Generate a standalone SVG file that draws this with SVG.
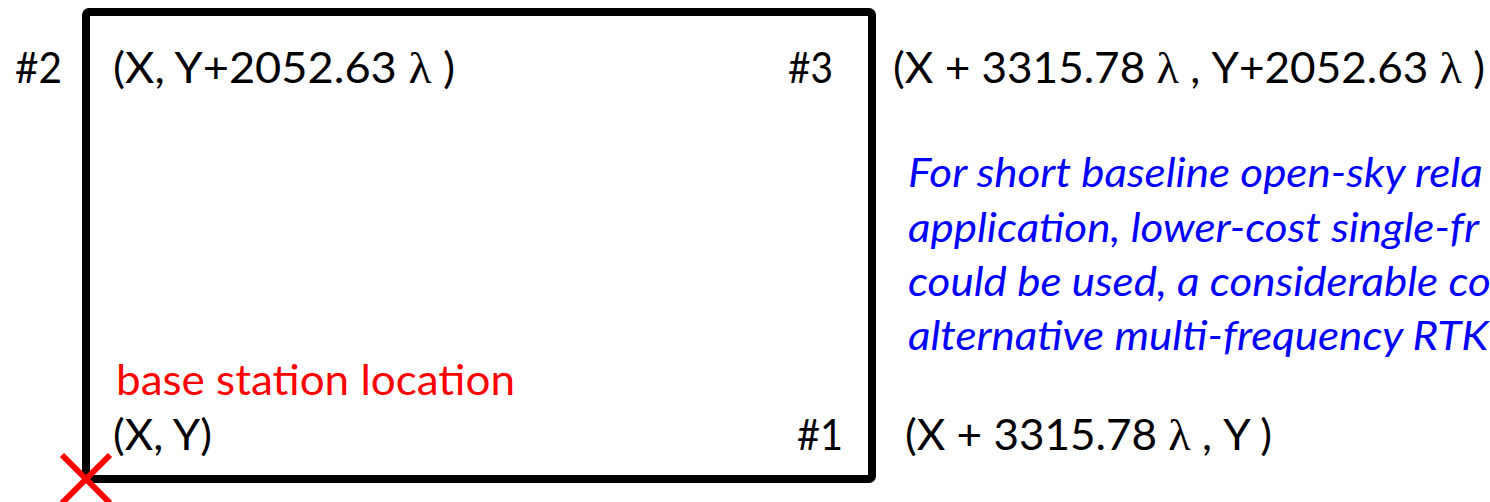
<svg xmlns="http://www.w3.org/2000/svg" width="1490" height="502" viewBox="0 0 1490 502">
<style>
.t{font-family:Lato,"Liberation Sans",sans-serif;font-size:42px;fill:#000}
.l{font-family:"Liberation Serif","DejaVu Serif",serif;font-size:44px}
.red{fill:#ff0000}
.blue{font-family:Lato,"Liberation Sans",sans-serif;font-size:40px;font-style:italic;fill:#0000ff}
</style>
<rect width="1490" height="502" fill="#fff"/>
<g id="area">
<rect x="86" y="12" width="786" height="467" rx="3" fill="none" stroke="#000" stroke-width="8"/>
</g>
<g id="corner2">
<text class="t" x="15" y="83" textLength="47" lengthAdjust="spacingAndGlyphs">#2</text>
<text class="t" x="113" y="83" textLength="342" lengthAdjust="spacingAndGlyphs">(X, Y+2052.63 <tspan class="l">λ</tspan>  )</text>
</g>
<g id="corner3">
<text class="t" x="788" y="83" textLength="45" lengthAdjust="spacingAndGlyphs">#3</text>
<text class="t" x="893" y="83" textLength="592" lengthAdjust="spacingAndGlyphs">(X + 3315.78 <tspan class="l">λ</tspan> , Y+2052.63 <tspan class="l">λ</tspan>  )</text>
</g>
<g id="note" transform="matrix(1.1 0 0 1 -90.8 0)">
<text class="blue" x="908" y="187">For short baseline open-sky rela</text>
<text class="blue" x="908" y="242">application, lower-cost single-fr</text>
<text class="blue" x="908" y="296">could be used, a considerable co</text>
<text class="blue" x="908" y="350">alternative multi-frequency RTK</text>
</g>
<g id="corner1">
<text class="t" x="797" y="450" textLength="46" lengthAdjust="spacingAndGlyphs">#1</text>
<text class="t" x="905" y="450" textLength="367" lengthAdjust="spacingAndGlyphs">(X + 3315.78 <tspan class="l">λ</tspan> , Y )</text>
</g>
<g id="base">
<text class="t red" x="116" y="395" textLength="399" lengthAdjust="spacingAndGlyphs">base station location</text>
<text class="t" x="113" y="450" textLength="99" lengthAdjust="spacingAndGlyphs">(X, Y)</text>
<path d="M62 455 L110 503 M110 455 L62 503" stroke="#ff0000" stroke-width="6" fill="none"/>
</g>
</svg>
